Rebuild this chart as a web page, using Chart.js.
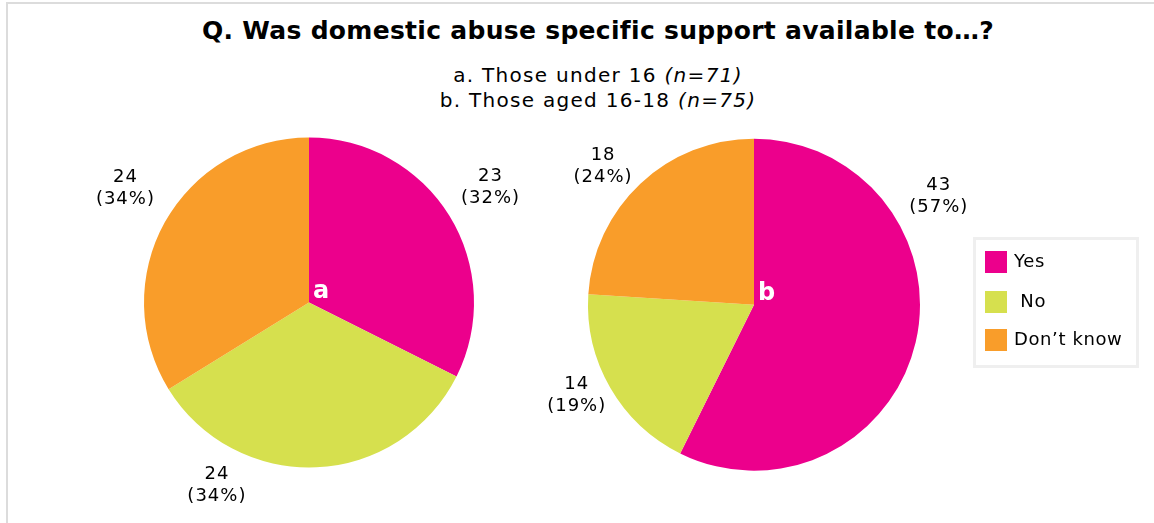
<!DOCTYPE html>
<html>
<head>
<meta charset="utf-8">
<script src="https://cdn.jsdelivr.net/npm/chart.js@4.4.0/dist/chart.umd.min.js"></script>
<style>
    html, body { margin: 0; padding: 0; background: #fff; }
    body { width: 1154px; height: 523px; position: relative; overflow: hidden;
           font-family: Verdana, "DejaVu Sans", sans-serif; color: #000; }
    #cadre { position: absolute; left: 6px; top: 2px; right: -10px; bottom: -10px;
             border-top: 2px solid #dcdcdc; border-left: 2px solid #dcdcdc; }
    #titre { position: absolute; left: 0; width: 1196px; top: 16px; text-align: center;
             font-size: 25px; font-weight: bold; letter-spacing: 0.3px; }
    .sous { position: absolute; left: 0; width: 1196px; text-align: center; font-size: 20px;
            letter-spacing: 1.3px; }
    canvas { position: absolute; left: 0; top: 0; }
    #legende { position: absolute; left: 973px; top: 237px; width: 160px; height: 125px;
               border: 3px solid #efefef; }
    .item { position: absolute; left: 9px; font-size: 18px; letter-spacing: 0.6px; white-space: pre; }
    .item span { display: inline-block; width: 22px; height: 22px; vertical-align: middle;
                 margin-right: 7px; }
</style>
</head>
<body>
<div id="cadre"></div>
<div id="titre">Q. Was domestic abuse specific support available to…?</div>
<div class="sous" style="top:63px">a. Those under 16 <i>(n=71)</i></div>
<div class="sous" style="top:88px">b. Those aged 16-18 <i>(n=75)</i></div>
<canvas id="pieA" width="1154" height="523"></canvas>
<canvas id="pieB" width="1154" height="523"></canvas>
<div id="legende"></div>

<script>
// données
const categories = ['Yes', 'No', 'Don\u2019t know'];
const couleurs = ['#ec008c', '#d6e04e', '#f99d2a'];
const valeursMoins16 = [23, 24, 24];
const valeurs16a18 = [43, 14, 18];

// mise en page des deux camemberts (centre, rayon, angle des étiquettes en degrés)
const pies = [
    {id: 'pieA', lettre: 'a', valeurs: valeursMoins16, cx: 309, cy: 302.5, r: 165,
        angles: [57.6, 206.7, 301.8], dist: [215, 205, 216]},
    {id: 'pieB', lettre: 'b', valeurs: valeurs16a18, cx: 754, cy: 304.7, r: 166,
        angles: [59.7, 243, 312.6], dist: [214, 199, 205]}
];

const W = 1154, H = 523;

const etiquettes = {
    id: 'etiquettes',
    afterDraw(chart, args, opts) {
        const ctx = chart.ctx;
        const arcs = chart.getDatasetMeta(0).data;
        const data = chart.data.datasets[0].data;
        const total = data.reduce((a, b) => a + b, 0);
        const cx = arcs[0].x, cy = arcs[0].y;
        ctx.save();
        ctx.textAlign = 'center';
        ctx.textBaseline = 'middle';
        ctx.fillStyle = '#000';
        ctx.font = '18px Verdana, "DejaVu Sans", sans-serif';
        ctx.letterSpacing = '1px';
        data.forEach(function (v, i) {
            const a = opts.angles[i] * Math.PI / 180;
            const x = cx + Math.sin(a) * opts.dist[i];
            const y = cy - Math.cos(a) * opts.dist[i];
            ctx.fillText(String(v), x, y - 11);
            ctx.fillText('(' + Math.round(v / total * 100) + '%)', x, y + 11);
        });
        // lettre au centre
        ctx.fillStyle = '#fff';
        ctx.font = 'bold 24px Verdana, "DejaVu Sans", sans-serif';
        ctx.letterSpacing = '0px';
        ctx.textAlign = 'left';
        ctx.fillText(opts.lettre, cx + 4, cy - 11);
        ctx.restore();
    }
};

pies.forEach(function (p) {
    new Chart(document.getElementById(p.id), {
        type: 'pie',
        data: {
            labels: categories,
            datasets: [{
                data: p.valeurs,
                backgroundColor: couleurs,
                borderWidth: 0
            }]
        },
        options: {
            responsive: false,
            animation: false,
            layout: {
                padding: {
                    left: p.cx - p.r,
                    right: W - (p.cx + p.r),
                    top: p.cy - p.r,
                    bottom: H - (p.cy + p.r)
                }
            },
            plugins: {
                legend: {display: false},
                tooltip: {enabled: false},
                etiquettes: {angles: p.angles, dist: p.dist, lettre: p.lettre}
            }
        },
        plugins: [etiquettes]
    });
});

// légende
const legende = document.getElementById('legende');
const posLegende = [10, 50, 88];
categories.forEach(function (c, i) {
    const d = document.createElement('div');
    d.className = 'item';
    d.style.top = posLegende[i] + 'px';
    d.innerHTML = '<span style="background:' + couleurs[i] + '"></span>' + (i === 1 ? ' ' : '') + c;
    legende.appendChild(d);
});
</script>
</body>
</html>
